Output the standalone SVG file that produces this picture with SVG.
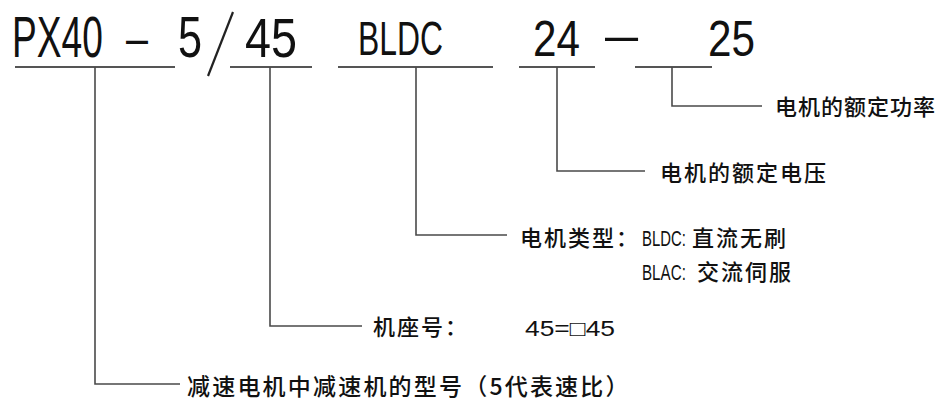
<svg xmlns="http://www.w3.org/2000/svg" width="943" height="398" viewBox="0 0 943 398">
<style>
.big{font-family:"Liberation Sans",sans-serif;fill:#111;}
.lbl{font-family:"Noto Sans CJK SC","Noto Sans",sans-serif;font-size:22px;font-weight:500;fill:#111;letter-spacing:2px;}
.sm{font-family:"Liberation Sans",sans-serif;font-size:22px;fill:#111;}
.ul{stroke:#555;stroke-width:2;fill:none;}
.cn{stroke:#4a4a4a;stroke-width:1.6;fill:none;}
</style>
<rect width="943" height="398" fill="#fff"/>
<g id="code">
<text class="big" font-size="58" transform="translate(12,57) scale(0.64,1)">PX40</text>
<text class="big" font-size="50" transform="translate(126,55) scale(0.79,1)">–</text>
<text class="big" font-size="58" transform="translate(178,57) scale(0.745,1)">5</text>
<line x1="233" y1="12" x2="208" y2="76" stroke="#222" stroke-width="2.2"/>
<text class="big" font-size="56" transform="translate(245,57) scale(0.835,1)">45</text>
<text class="big" font-size="48" transform="translate(358,55) scale(0.664,1)">BLDC</text>
<text class="big" font-size="50" transform="translate(533,56) scale(0.845,1)">24</text>
<text class="big" font-size="50" transform="translate(605,52) scale(1.19,1)">–</text>
<text class="big" font-size="50" transform="translate(708,56) scale(0.845,1)">25</text>
<line class="ul" x1="15" y1="67" x2="175" y2="67"/>
<line class="ul" x1="230" y1="67" x2="312" y2="67"/>
<line class="ul" x1="338" y1="67" x2="493" y2="67"/>
<line class="ul" x1="519" y1="67" x2="595" y2="67"/>
<line class="ul" x1="635" y1="67" x2="712" y2="67"/>
</g>
<g id="connectors">
<polyline class="cn" points="672,67 672,106 762,106"/>
<polyline class="cn" points="557,67 557,171 645,171"/>
<polyline class="cn" points="416,67 416,235 507,235"/>
<polyline class="cn" points="270,67 270,326 362,326"/>
<polyline class="cn" points="95,67 95,384 180,384"/>
</g>
<g id="power"><text class="lbl" x="775" y="115" style="letter-spacing:1px">电机的额定功率</text></g>
<g id="voltage"><text class="lbl" x="660" y="181">电机的额定电压</text></g>
<g id="type">
<text class="lbl" x="520" y="246">电机类型：</text>
<text class="sm" transform="translate(642,246) scale(0.677,1)">BLDC:</text>
<text class="lbl" x="692" y="246">直流无刷</text>
<text class="sm" transform="translate(642,280) scale(0.69,1)">BLAC:</text>
<text class="lbl" x="697" y="280">交流伺服</text>
</g>
<g id="frame">
<text class="lbl" x="373" y="335">机座号：</text>
<text x="525" y="336" font-family="Liberation Sans,Noto Sans CJK SC,sans-serif" font-size="22" fill="#111" textLength="90" lengthAdjust="spacingAndGlyphs">45=□45</text>
</g>
<g id="gearbox"><text class="lbl" x="187" y="395" style="font-size:23px;letter-spacing:2.2px">减速电机中减速机的型号（5代表速比）</text></g>
</svg>
